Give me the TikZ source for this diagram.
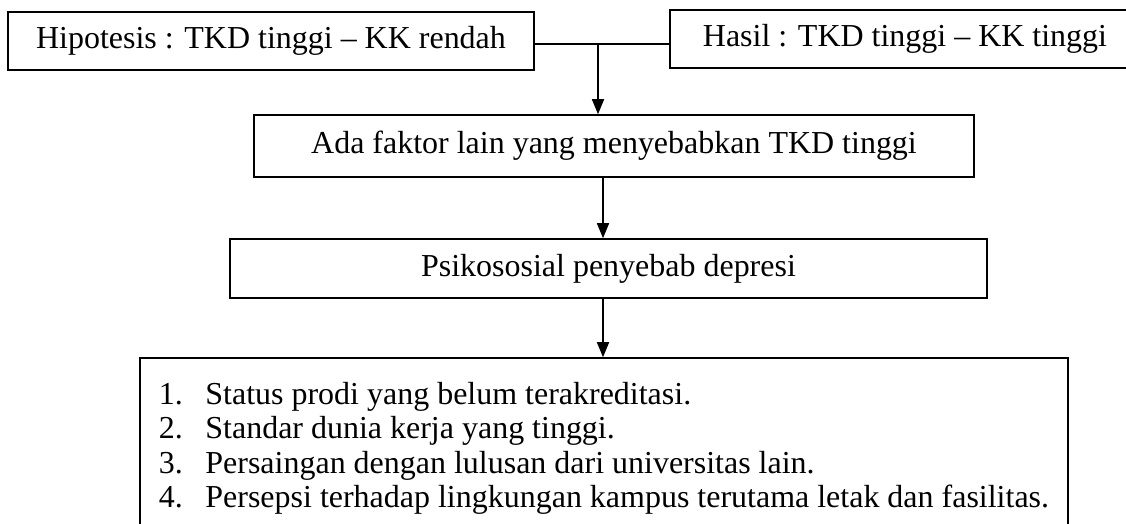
\documentclass[tikz,border=0pt]{standalone}
\usepackage{fontspec}
\setmainfont{Liberation Serif}
\usetikzlibrary{arrows.meta}
\begin{document}
\begin{tikzpicture}[x=0.02cm, y=-0.02cm, line width=0.9pt,
  box/.style={draw, inner sep=0pt, font=\fontsize{18.2pt}{19.6pt}\selectfont},
  arr/.style={-{Triangle[length=3mm,width=2.4mm]}}]
  \useasboundingbox (0,0) rectangle (1126,524);
  \node[box, minimum width=10.52cm, minimum height=1.16cm] (hipotesis) at (271,41) {Hipotesis : TKD tinggi -- KK rendah};
  \node[box, minimum width=9.4cm, minimum height=1.16cm] (hasil) at (905,39) {Hasil : TKD tinggi -- KK tinggi};
  \node[box, minimum width=14.4cm, minimum height=1.24cm] (faktor) at (614,146) {Ada faktor lain yang menyebabkan TKD tinggi};
  \node[box, minimum width=15.14cm, minimum height=1.18cm] (psiko) at (608.5,268.5) {Psikososial penyebab depresi};
  \node[box, minimum width=18.56cm, minimum height=3.64cm] (daftar) at (604,449) {%
    \begin{tabular}{@{}l@{\hspace{0.45cm}}l@{}}
      1. & Status prodi yang belum terakreditasi.\\
      2. & Standar dunia kerja yang tinggi.\\
      3. & Persaingan dengan lulusan dari universitas lain.\\
      4. & Persepsi terhadap lingkungan kampus terutama letak dan fasilitas.
    \end{tabular}};
  \coordinate (cabang) at (598,44);
  \coordinate (poros) at (603,200);
  \draw (hipotesis.east |- cabang) -- (hasil.west |- cabang);
  \draw[arr] (cabang) -- (faktor.north -| cabang);
  \draw[arr] (faktor.south -| poros) -- (psiko.north -| poros);
  \draw[arr] (psiko.south -| poros) -- (daftar.north -| poros);
\end{tikzpicture}
\end{document}
